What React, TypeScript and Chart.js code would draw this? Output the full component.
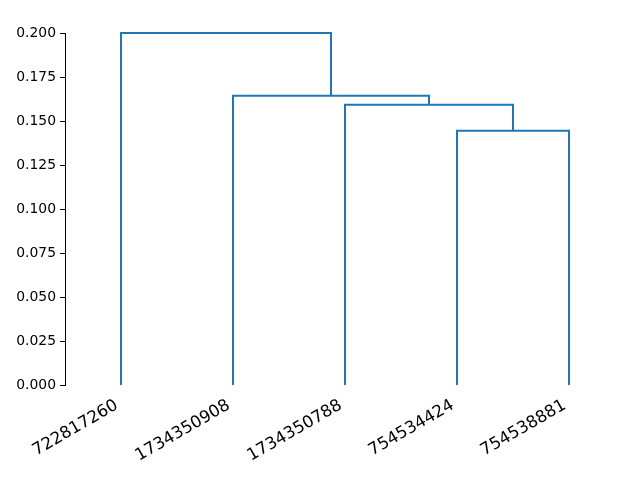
import React, { useEffect, useRef } from "react";
import { Chart, registerables } from "chart.js";

Chart.register(...registerables);

// Leaf labels in dendrogram order (left to right)
const leafLabels: string[] = ["722817260", "1734350908", "1734350788", "754534424", "754538881"];
// Linkage: node ids 0..4 are leaves, 5.. are merges in order
const mergeLeft: number[] = [3, 2, 1, 0];
const mergeRight: number[] = [4, 5, 6, 7];
const mergeHeight: number[] = [0.1445, 0.1593, 0.1644, 0.2];
const yTicks: number[] = [0, 0.025, 0.05, 0.075, 0.1, 0.125, 0.15, 0.175, 0.2];

const LINE_COLOR = "#1f77b4";
const FONT = "'DejaVu Sans', sans-serif";

function buildLinks() {
  const nx: number[] = leafLabels.map((_, i) => 5 + 10 * i);
  const ny: number[] = leafLabels.map(() => 0);
  const links: { x: number; y: number }[][] = [];
  mergeLeft.forEach((l, k) => {
    const r = mergeRight[k];
    const h = mergeHeight[k];
    links.push([
      { x: nx[l], y: ny[l] },
      { x: nx[l], y: h },
      { x: nx[r], y: h },
      { x: nx[r], y: ny[r] },
    ]);
    nx.push((nx[l] + nx[r]) / 2);
    ny.push(h);
  });
  return links;
}

const leafLabelPlugin = {
  id: "leafLabels",
  afterDraw(chart: any) {
    const ctx = chart.ctx;
    const xs = chart.scales.x;
    const y0 = chart.chartArea.bottom + 23;
    ctx.save();
    ctx.fillStyle = "#000";
    ctx.font = `16.7px ${FONT}`;
    ctx.textAlign = "right";
    ctx.textBaseline = "alphabetic";
    leafLabels.forEach((lab, i) => {
      const px = xs.getPixelForValue(5 + 10 * i) - 2;
      ctx.save();
      ctx.translate(px, y0);
      ctx.rotate(-Math.PI / 6);
      ctx.fillText(lab, 0, 0);
      ctx.restore();
    });
    ctx.restore();
  },
};

export default function App() {
  const ref = useRef<HTMLCanvasElement | null>(null);
  useEffect(() => {
    if (!ref.current) return;
    const links = buildLinks();
    const chart = new Chart(ref.current, {
      type: "scatter",
      data: {
        datasets: links.map((pts) => ({
          data: pts,
          showLine: true,
          borderColor: LINE_COLOR,
          backgroundColor: LINE_COLOR,
          borderWidth: 2,
          pointRadius: 0,
          pointHoverRadius: 0,
          clip: false as any,
          borderJoinStyle: "miter" as const,
        })),
      },
      options: {
        animation: false,
        responsive: false,
        events: [],
        layout: { padding: { left: 0, right: 15, top: 33, bottom: 0 } },
        plugins: { legend: { display: false }, tooltip: { enabled: false } },
        scales: {
          x: {
            type: "linear",
            min: 0,
            max: 10 * leafLabels.length,
            grid: { display: false },
            border: { display: false },
            ticks: { display: false },
            afterFit(scale: any) {
              scale.height = 95;
            },
          },
          y: {
            type: "linear",
            min: 0,
            max: 0.2,
            afterBuildTicks(scale: any) {
              scale.ticks = yTicks.map((v) => ({ value: v }));
            },
            afterFit(scale: any) {
              scale.width = 65;
            },
            grid: {
              display: true,
              drawOnChartArea: false,
              drawTicks: true,
              tickLength: 5,
              color: "#000",
              lineWidth: 1,
            },
            border: { display: true, color: "#000", width: 1 },
            ticks: {
              color: "#000",
              padding: 4,
              font: { family: FONT, size: 13.9 },
              callback: (v: any) => Number(v).toFixed(3),
            },
          },
        },
      },
      plugins: [leafLabelPlugin],
    });
    return () => chart.destroy();
  }, []);
  return (
    <div style={{ position: "fixed", left: 0, top: 0, width: 640, height: 480, background: "#fff" }}>
      <canvas ref={ref} width={640} height={480} />
    </div>
  );
}
